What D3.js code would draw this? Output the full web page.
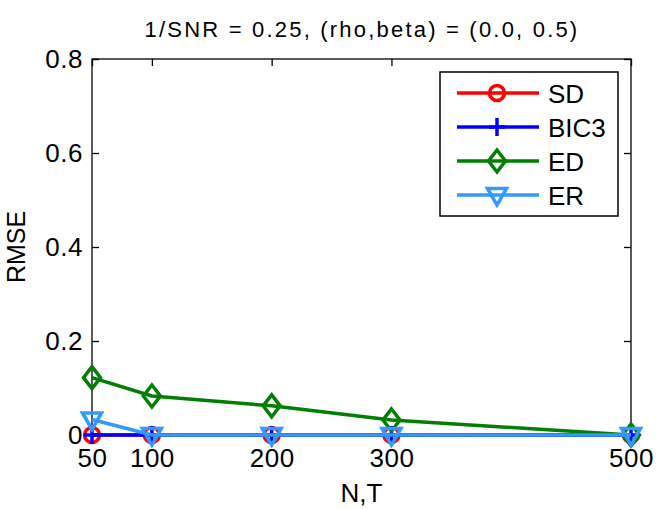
<!DOCTYPE html>
<html>
<head>
<meta charset="utf-8">
<script src="https://cdn.jsdelivr.net/npm/d3@7"></script>
<style>
  body { margin: 0; background: #fff; }
  text { font-family: "Liberation Sans", Arial, sans-serif; }
</style>
</head>
<body>
<div id="chart"></div>
<script>
// data
const sizes = [50, 100, 200, 300, 500];
const sdValues = [0, 0, 0, 0, 0];
const bic3Values = [0, 0, 0, 0, 0];
const edValues = [0.122, 0.083, 0.062, 0.032, 0];
const erValues = [0.033, 0, 0, 0, 0];
const yTicks = [0, 0.2, 0.4, 0.6, 0.8];
const yTickLabels = ["0", "0.2", "0.4", "0.6", "0.8"];

const series = [
    { name: "SD", values: sdValues, color: "#ff0000", marker: "circle" },
    { name: "BIC3", values: bic3Values, color: "#0000ff", marker: "plus" },
    { name: "ED", values: edValues, color: "#007f00", marker: "diamond" },
    { name: "ER", values: erValues, color: "#3399ff", marker: "triangle" }
];

const width = 664, height = 509;
const margin = { top: 59, right: 33, bottom: 74, left: 92 };

const svg = d3.select("#chart").append("svg")
    .attr("width", width)
    .attr("height", height);

const x = d3.scaleLinear()
    .domain([50, 500])
    .range([margin.left, width - margin.right]);

const y = d3.scaleLinear()
    .domain([0, 0.8])
    .range([height - margin.bottom, margin.top]);

// frame
svg.append("rect")
    .attr("x", margin.left)
    .attr("y", margin.top)
    .attr("width", x(500) - x(50))
    .attr("height", y(0) - y(0.8))
    .attr("fill", "none")
    .attr("stroke", "#000")
    .attr("stroke-width", 1.3);

// axes with inward ticks, mirrored on top/right
const fmt = d => yTickLabels[yTicks.indexOf(d)];
const styleLabels = g => g.selectAll("text")
    .attr("font-size", "26px")
    .attr("fill", "#000")
    .attr("letter-spacing", "0.5px")
    .attr("font-family", "Liberation Sans, Arial, sans-serif");

svg.append("g")
    .attr("transform", `translate(0,${y(0)})`)
    .call(d3.axisBottom(x).tickValues(sizes).tickSizeInner(-7).tickSizeOuter(0).tickPadding(14))
    .call(g => g.select(".domain").remove())
    .call(g => g.selectAll(".tick line").attr("stroke-width", 1.3))
    .call(styleLabels);

svg.append("g")
    .attr("transform", `translate(0,${y(0.8)})`)
    .call(d3.axisTop(x).tickValues(sizes).tickSizeInner(-7).tickSizeOuter(0).tickFormat(""))
    .call(g => g.select(".domain").remove())
    .call(g => g.selectAll(".tick line").attr("stroke-width", 1.3));

svg.append("g")
    .attr("transform", `translate(${x(50)},0)`)
    .call(d3.axisLeft(y).tickValues(yTicks).tickFormat(fmt).tickSizeInner(-7).tickSizeOuter(0).tickPadding(9))
    .call(g => g.select(".domain").remove())
    .call(g => g.selectAll(".tick line").attr("stroke-width", 1.3))
    .call(styleLabels);

svg.append("g")
    .attr("transform", `translate(${x(500)},0)`)
    .call(d3.axisRight(y).tickValues(yTicks).tickSizeInner(-7).tickSizeOuter(0).tickFormat(""))
    .call(g => g.select(".domain").remove())
    .call(g => g.selectAll(".tick line").attr("stroke-width", 1.3));

// marker painter
function drawMarker(g, type, color) {
    if (type === "circle") {
        g.append("circle").attr("r", 7.5)
            .attr("fill", "none").attr("stroke", color).attr("stroke-width", 3.5);
    } else if (type === "plus") {
        g.append("path").attr("d", "M-8,0H8M0,-9V9")
            .attr("fill", "none").attr("stroke", color).attr("stroke-width", 3.5);
    } else if (type === "diamond") {
        g.append("path").attr("d", "M0,-11L8.5,0L0,11L-8.5,0Z")
            .attr("fill", "none").attr("stroke", color).attr("stroke-width", 3.5);
    } else if (type === "triangle") {
        g.append("path").attr("d", "M-9.5,-6.5H9.5L0,10Z")
            .attr("fill", "none").attr("stroke", color).attr("stroke-width", 3.5);
    }
}

const line = d3.line()
    .x((d, i) => x(sizes[i]))
    .y(d => y(d));

series.forEach(s => {
    svg.append("path")
        .datum(s.values)
        .attr("d", line)
        .attr("fill", "none")
        .attr("stroke", s.color)
        .attr("stroke-width", 3.5)
        .attr("stroke-linejoin", "round");
    s.values.forEach((v, i) => {
        const g = svg.append("g").attr("transform", `translate(${x(sizes[i])},${y(v)})`);
        drawMarker(g, s.marker, s.color);
    });
});

// title and axis labels
svg.append("text")
    .attr("x", 362)
    .attr("y", 37)
    .attr("text-anchor", "middle")
    .attr("font-size", "22px")
    .attr("letter-spacing", "2.2px")
    .text("1/SNR = 0.25, (rho,beta) = (0.0, 0.5)");

svg.append("text")
    .attr("x", (x(50) + x(500)) / 2)
    .attr("y", 502)
    .attr("text-anchor", "middle")
    .attr("font-size", "26px")
    .text("N,T");

svg.append("text")
    .attr("transform", `translate(25,${(y(0) + y(0.8)) / 2}) rotate(-90)`)
    .attr("text-anchor", "middle")
    .attr("font-size", "25px")
    .text("RMSE");

// legend
const legend = svg.append("g").attr("transform", "translate(440,72)");
legend.append("rect")
    .attr("width", 178).attr("height", 144)
    .attr("fill", "#fff").attr("stroke", "#000").attr("stroke-width", 1.5);

series.forEach((s, i) => {
    const cy = 21 + i * 34;
    legend.append("line")
        .attr("x1", 17).attr("x2", 99).attr("y1", cy).attr("y2", cy)
        .attr("stroke", s.color).attr("stroke-width", 3.5);
    drawMarker(legend.append("g").attr("transform", `translate(57,${cy})`), s.marker, s.color);
    legend.append("text")
        .attr("x", 108).attr("y", cy + 9.5)
        .attr("font-size", "26px")
        .text(s.name);
});
</script>
</body>
</html>
